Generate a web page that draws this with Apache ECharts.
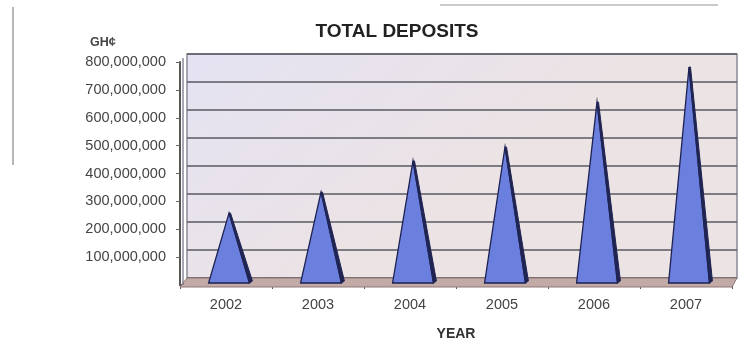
<!DOCTYPE html>
<html>
<head>
<meta charset="utf-8">
<script src="https://cdn.jsdelivr.net/npm/echarts@6/dist/echarts.min.js"></script>
<style>
  html, body { margin: 0; padding: 0; background: #ffffff; }
  #chart { width: 749px; height: 352px; }
</style>
</head>
<body>
<div id="chart"></div>
<script>
// Total deposits per year (GH¢)
const years = ['2002', '2003', '2004', '2005', '2006', '2007'];
const deposits = [258000000, 333000000, 445000000, 495000000, 656000000, 782000000];
const axisMax = 800000000;
const axisStep = 100000000;

// Layout: front axis plane and the recessed back wall of the 3D box
const front = { left: 180, right: 17, top: 62, bottom: 67 };
const wall = { left: 187, right: 12, top: 54, bottom: 74 };
const W = 749, H = 352;

const chart = echarts.init(document.getElementById('chart'), null, { renderer: 'canvas' });

function pyramid(params, api) {
  const apex = api.coord([api.value(0), api.value(1)]);
  const base = api.coord([api.value(0), 0]);
  const band = api.size([1, 0])[0];
  const hw = band * 0.222;
  const cx = apex[0] + 3;
  const by = base[1] - 2;
  return {
    type: 'group',
    children: [
      {
        type: 'polygon',
        shape: { points: [[cx, apex[1]], [cx - hw, by], [cx + hw, by]] },
        style: { fill: '#6b80de', stroke: '#1d2150', lineWidth: 1.3 }
      },
      {
        type: 'polygon',
        shape: { points: [[cx, apex[1]], [cx + 1.5, apex[1]], [cx + hw + 3, by - 2], [cx + hw, by]] },
        style: { fill: '#1f2453', stroke: '#1f2453', lineWidth: 1 }
      }
    ]
  };
}

const numFmt = v => v.toLocaleString('en-US');

chart.setOption({
  animation: false,
  backgroundColor: '#ffffff',
  title: [
    {
      text: 'TOTAL DEPOSITS',
      left: 392, top: 17, textAlign: 'center',
      textStyle: { fontFamily: 'Liberation Sans, Arial, sans-serif', fontSize: 19, fontWeight: 'bold', color: '#222' }
    },
    {
      text: 'GH¢',
      left: 85, top: 31,
      textStyle: { fontFamily: 'Liberation Sans, Arial, sans-serif', fontSize: 12.5, fontWeight: 'bold', color: '#444' }
    }
  ],
  grid: [
    Object.assign({ show: false }, front),
    Object.assign({
      show: true,
      borderColor: '#8c8a98',
      borderWidth: 1.5,
      backgroundColor: {
        type: 'linear', x: 0, y: 0, x2: 0.3, y2: 1,
        colorStops: [
          { offset: 0, color: '#e5e3f3' },
          { offset: 1, color: '#ece3e4' }
        ]
      }
    }, wall)
  ],
  xAxis: [
    {
      type: 'category',
      gridIndex: 0,
      data: years,
      name: 'YEAR',
      nameLocation: 'middle',
      nameGap: 42,
      nameTextStyle: { fontFamily: 'Liberation Sans, Arial, sans-serif', fontSize: 14, fontWeight: 'bold', color: '#333' },
      axisLine: { show: true, lineStyle: { color: '#555', width: 2 } },
      axisTick: { show: true, length: 4, lineStyle: { color: '#555' } },
      axisLabel: { margin: 12, fontFamily: 'Liberation Sans, Arial, sans-serif', fontSize: 14.5, color: '#444' }
    },
    {
      type: 'value', gridIndex: 1, min: 0, max: 1, show: false
    }
  ],
  yAxis: [
    {
      type: 'value',
      gridIndex: 0,
      min: 0, max: axisMax, interval: axisStep,
      axisLine: { show: true, lineStyle: { color: '#555', width: 2 } },
      axisTick: { show: true, length: 4, lineStyle: { color: '#666' } },
      splitLine: { show: false },
      axisLabel: {
        showMinLabel: false,
        margin: 14,
        fontFamily: 'Liberation Sans, Arial, sans-serif', fontSize: 14.5, color: '#444',
        formatter: numFmt
      }
    },
    {
      type: 'value',
      gridIndex: 1,
      min: 0, max: axisMax, interval: axisStep,
      axisLine: { show: false },
      axisTick: { show: false },
      axisLabel: { show: false },
      splitLine: { show: true, lineStyle: { color: '#5a5a62', width: 1.5 } }
    }
  ],
  graphic: [
    // floor of the 3D box
    {
      type: 'polygon',
      z: 1,
      shape: {
        points: [
          [front.left, H - front.bottom + 2],
          [W - front.right, H - front.bottom + 2],
          [W - wall.right, H - wall.bottom],
          [wall.left, H - wall.bottom]
        ]
      },
      style: { fill: '#c2aaa6', stroke: '#8e7876', lineWidth: 1 }
    },
    // side wall edge
    {
      type: 'line', z: 1,
      shape: { x1: front.left + 3, y1: front.top - 4, x2: front.left + 3, y2: H - front.bottom },
      style: { stroke: '#6c6a80', lineWidth: 1.2 }
    },
    // page margin lines
    {
      type: 'line', z: 0,
      shape: { x1: 13, y1: 7, x2: 13, y2: 165 },
      style: { stroke: '#8a8a8a', lineWidth: 1.5, opacity: 0.8 }
    },
    {
      type: 'line', z: 0,
      shape: { x1: 440, y1: 5, x2: 718, y2: 5 },
      style: { stroke: '#9a9a9a', lineWidth: 1.5, opacity: 0.7 }
    }
  ],
  series: [
    {
      type: 'custom',
      xAxisIndex: 0,
      yAxisIndex: 0,
      z: 3,
      renderItem: pyramid,
      encode: { x: 0, y: 1 },
      data: years.map((y, i) => [i, deposits[i]])
    }
  ]
});
</script>
</body>
</html>
